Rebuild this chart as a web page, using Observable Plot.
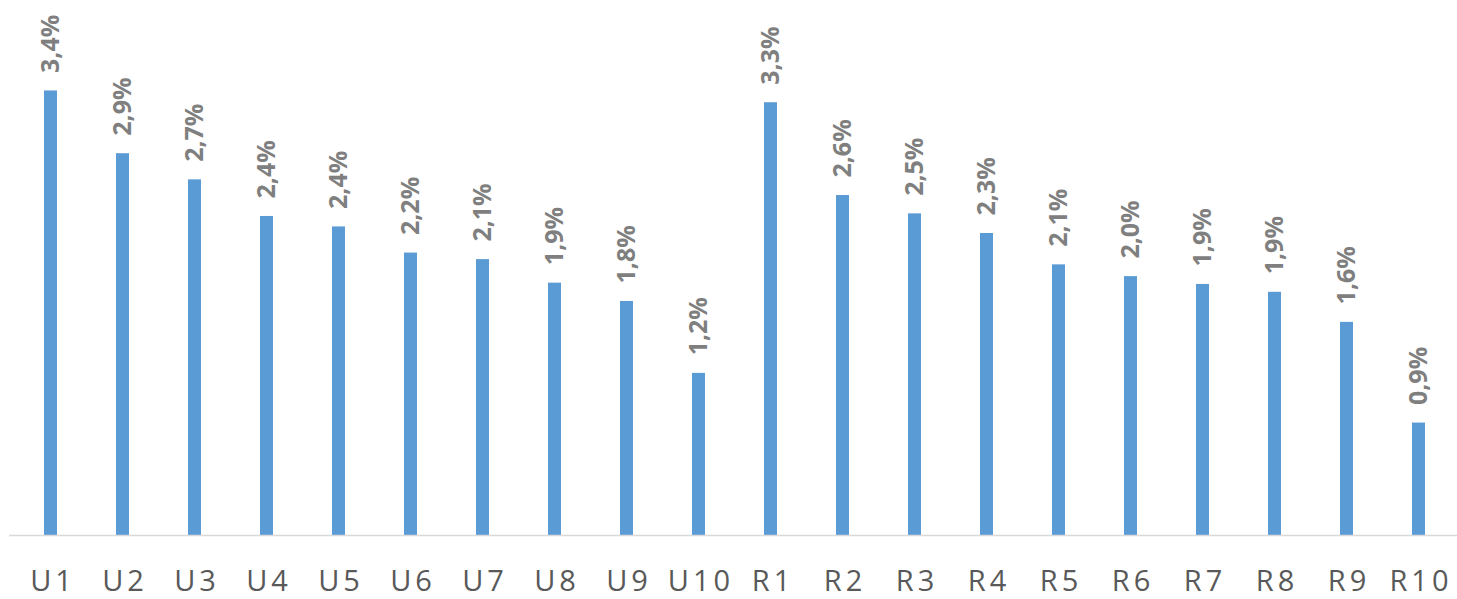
<!DOCTYPE html>
<html>
<head>
<meta charset="utf-8">
<script src="https://cdn.jsdelivr.net/npm/d3@7"></script>
<script src="https://cdn.jsdelivr.net/npm/@observablehq/plot@0.6"></script>
<style>
  html, body { margin: 0; padding: 0; background: #fff; }
  #chart svg { display: block; }
  #chart g[aria-label="x-axis tick label"] text { letter-spacing: 4px; }
</style>
</head>
<body>
<div id="chart"></div>
<script>
const categories = ["U1","U2","U3","U4","U5","U6","U7","U8","U9","U10","R1","R2","R3","R4","R5","R6","R7","R8","R9","R10"];
const values = [3.40, 2.92, 2.72, 2.44, 2.36, 2.16, 2.11, 1.93, 1.79, 1.24, 3.31, 2.60, 2.46, 2.31, 2.07, 1.98, 1.92, 1.86, 1.63, 0.86];
const labels = ["3,4%","2,9%","2,7%","2,4%","2,4%","2,2%","2,1%","1,9%","1,8%","1,2%","3,3%","2,6%","2,5%","2,3%","2,1%","2,0%","1,9%","1,9%","1,6%","0,9%"];

const data = categories.map((c, i) => ({cat: c, value: values[i], label: labels[i]}));

const chart = Plot.plot({
  width: 1457,
  height: 599,
  marginLeft: 9,
  marginRight: 0,
  marginTop: 12,
  marginBottom: 64,
  style: {fontFamily: "'Open Sans', sans-serif", background: "#fff"},
  x: {domain: categories, range: [9.2, 1460.3], paddingInner: 0.817, paddingOuter: 0.408, label: null},
  y: {domain: [0, 4], axis: null},
  marks: [
    Plot.barY(data, {x: "cat", y: "value", fill: "#5B9BD5"}),
    Plot.ruleY([0], {stroke: "#d9d9d9", strokeWidth: 1.5}),
    Plot.text(data, {x: "cat", y: "value", text: "label", rotate: -90, textAnchor: "start", dy: -18,
      fill: "#7f7f7f", fontWeight: "bold", fontSize: 25}),
    Plot.axisX({tickSize: 0, tickPadding: 35, fontSize: 29, dx: 2, color: "#595959", label: null})
  ]
});
document.getElementById("chart").appendChild(chart);
</script>
</body>
</html>
